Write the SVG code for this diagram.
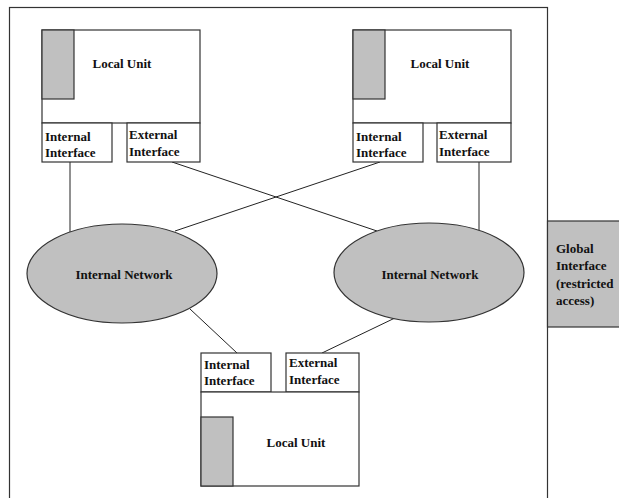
<svg xmlns="http://www.w3.org/2000/svg" width="619" height="498" viewBox="0 0 619 498">
<style>
.box{fill:#fff;stroke:#333;stroke-width:1.2}
.gray{fill:#c0c0c0;stroke:#333;stroke-width:1.2}
.ln{stroke:#222;stroke-width:1;fill:none}
text{font-family:"Liberation Serif","Times New Roman",serif;font-weight:bold;font-size:13px;fill:#111}
.c{text-anchor:middle}
</style>
<rect width="619" height="498" fill="#fff"/>
<rect id="frame" x="9.5" y="7.5" width="538" height="500" fill="none" stroke="#333" stroke-width="1.2"/>
<g id="connectors">
<line class="ln" x1="70" y1="162" x2="70" y2="232"/>
<line class="ln" x1="479" y1="162" x2="479" y2="231"/>
<line class="ln" x1="172" y1="162" x2="377" y2="231"/>
<line class="ln" x1="380" y1="162" x2="175" y2="231"/>
<line class="ln" x1="190" y1="309" x2="237" y2="353"/>
<line class="ln" x1="397" y1="317" x2="322" y2="353"/>
</g>
<g id="unit-top-left">
<rect class="box" x="42" y="30" width="158" height="93"/>
<rect class="gray" x="42" y="30" width="32" height="69"/>
<text class="c" x="122" y="68">Local Unit</text>
</g>
<g id="int-top-left">
<rect class="box" x="42" y="123" width="70" height="39"/>
<text x="45" y="141">Internal</text>
<text x="45" y="157">Interface</text>
</g>
<g id="ext-top-left">
<rect class="box" x="127" y="123" width="73" height="39"/>
<text x="129" y="139">External</text>
<text x="129" y="156">Interface</text>
</g>
<g id="unit-top-right">
<rect class="box" x="353" y="30" width="158" height="93"/>
<rect class="gray" x="353" y="30" width="32" height="69"/>
<text class="c" x="440" y="68">Local Unit</text>
</g>
<g id="int-top-right">
<rect class="box" x="353" y="123" width="70" height="39"/>
<text x="356" y="141">Internal</text>
<text x="356" y="157">Interface</text>
</g>
<g id="ext-top-right">
<rect class="box" x="437" y="123" width="74" height="39"/>
<text x="439" y="139">External</text>
<text x="439" y="156">Interface</text>
</g>
<g id="net-left">
<ellipse class="gray" cx="122" cy="273.5" rx="95" ry="49.5"/>
<text class="c" x="124" y="279">Internal Network</text>
</g>
<g id="net-right">
<ellipse class="gray" cx="429" cy="272.5" rx="95" ry="49.5"/>
<text class="c" x="430" y="279">Internal Network</text>
</g>
<g id="int-bottom">
<rect class="box" x="201" y="353" width="70" height="39"/>
<text x="204" y="369">Internal</text>
<text x="204" y="385">Interface</text>
</g>
<g id="ext-bottom">
<rect class="box" x="286" y="353" width="73" height="39"/>
<text x="289" y="367">External</text>
<text x="289" y="384">Interface</text>
</g>
<g id="unit-bottom">
<rect class="box" x="201" y="392" width="158" height="94"/>
<rect class="gray" x="201" y="417" width="32" height="69"/>
<text class="c" x="296" y="447">Local Unit</text>
</g>
<g id="global">
<rect class="gray" x="547.5" y="221" width="80" height="106"/>
<text x="556" y="253">Global</text>
<text x="556" y="270">Interface</text>
<text x="556" y="288">(restricted</text>
<text x="556" y="305">access)</text>
</g>
</svg>
